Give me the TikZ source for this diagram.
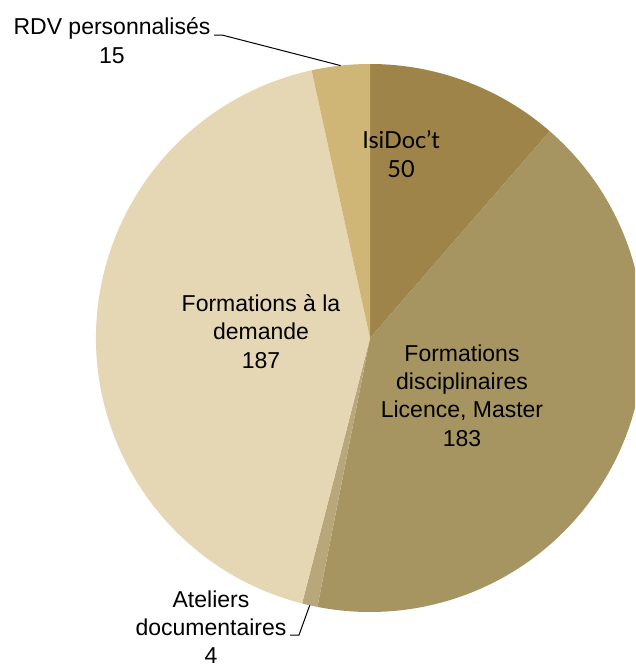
\documentclass[tikz,border=0pt]{standalone}
\usepackage{fontspec}
\setmainfont{Liberation Sans}
\newfontfamily\isifont{Lato}
\definecolor{cIsi}{HTML}{9E8448}
\definecolor{cDisc}{HTML}{A69461}
\definecolor{cAtel}{HTML}{B8A77B}
\definecolor{cDem}{HTML}{E5D7B4}
\definecolor{cRdv}{HTML}{CFB676}
\tikzset{
  lbl/.style={inner sep=0pt, align=center, anchor=base, text=black,
    font=\fontsize{23}{28.3}\selectfont},
  leader/.style={draw=black, line width=1pt},
}
\begin{document}
\begin{tikzpicture}[x=1pt,y=-1pt]
\useasboundingbox (0,0) rectangle (635,664);
\clip (0,0) rectangle (635,664);
\begin{scope}[shift={(370,338)}, yscale=-1]
  \fill[cIsi]  (0,0) -- (90:274) arc[start angle=90, end angle=48.998, radius=274] -- cycle;
  \fill[cDisc] (0,0) -- (48.998:274) arc[start angle=48.998, end angle=-101.07, radius=274] -- cycle;
  \fill[cAtel] (0,0) -- (-101.07:274) arc[start angle=-101.07, end angle=-104.35, radius=274] -- cycle;
  \fill[cDem]  (0,0) -- (-104.35:274) arc[start angle=-104.35, end angle=-257.70, radius=274] -- cycle;
  \fill[cRdv]  (0,0) -- (-257.70:274) arc[start angle=-257.70, end angle=-270, radius=274] -- cycle;
  \coordinate (rdvP) at (96.15:274);
  \coordinate (atelP) at (-102.71:274);
\end{scope}
\node[lbl, font=\isifont\fontsize{23.5}{29}\selectfont] (isi) at (401,177) {IsiDoc’t\\50};
\node[lbl] (disc) at (462,446) {Formations\\disciplinaires\\Licence, Master\\183};
\node[lbl] (dem) at (261,368) {Formations à la\\demande\\187};
\node[lbl] (rdv) at (112,63) {RDV personnalisés\\15};
\node[lbl, font=\fontsize{23}{28}\selectfont] (atel) at (211,663) {Ateliers\\documentaires\\4};
\coordinate (rdvA) at (214,35);
\coordinate (rdvB) at (222,35);
\coordinate (atelA) at (290,635);
\coordinate (atelB) at (299,635);
\draw[leader] (rdvA) -- (rdvB) -- (rdvP);
\draw[leader] (atelA) -- (atelB) -- (atelP);
\end{tikzpicture}
\end{document}
